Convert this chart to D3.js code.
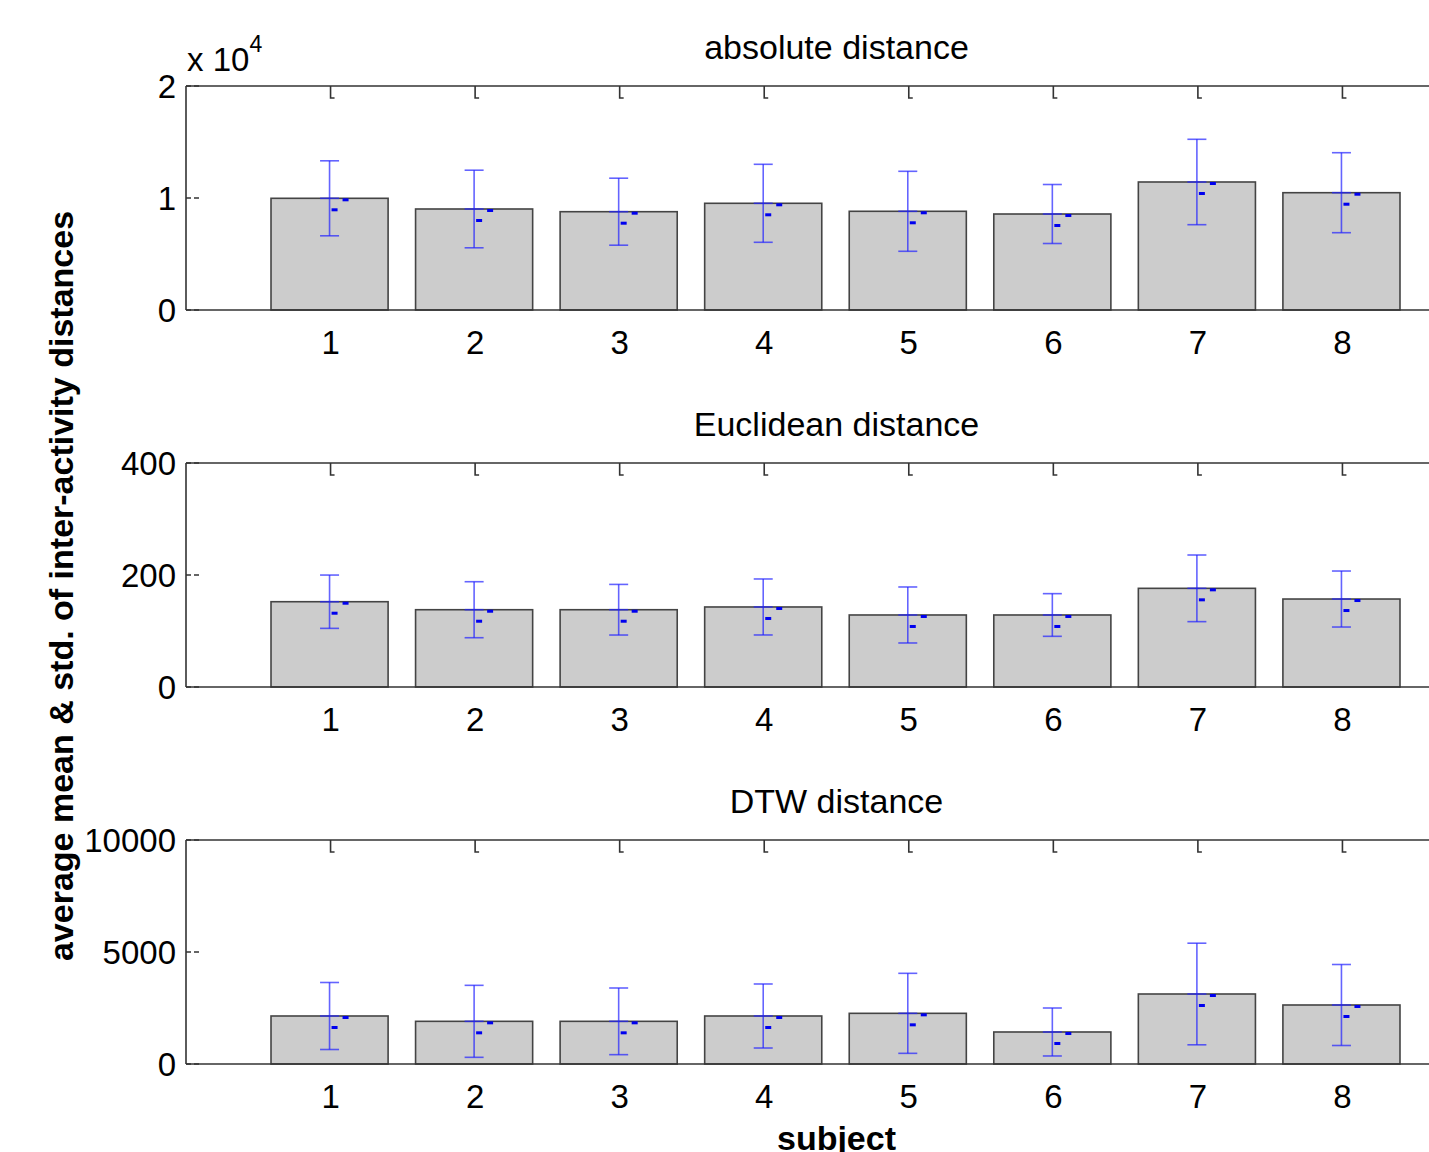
<!DOCTYPE html>
<html>
<head>
<meta charset="utf-8">
<script src="https://cdn.jsdelivr.net/npm/d3@7"></script>
<style>
  body { margin: 0; background: #fff; }
  svg { display: block; font-family: "Liberation Sans", Arial, sans-serif; }
</style>
</head>
<body>
<div id="chart"></div>
<script>
var subjects = [1, 2, 3, 4, 5, 6, 7, 8];

// absolute distance
var absMean = [9973, 9018, 8777, 9527, 8813, 8571, 11429, 10473];
var absStd = [3348, 3464, 2991, 3482, 3571, 2634, 3813, 3571];

// Euclidean distance
var eucMean = [152.3, 138, 138, 142.9, 128.6, 128.6, 176.2, 157.1];
var eucStd = [47.6, 50, 45.2, 50, 50, 38.1, 59.5, 50];

// DTW distance
var dtwMean = [2143, 1905, 1905, 2143, 2262, 1429, 3125, 2634];
var dtwStd = [1496, 1607, 1488, 1429, 1786, 1071, 2268, 1808];

var panels = [
  { title: "absolute distance", mean: absMean, std: absStd, max: 20000, ticks: [0, 10000, 20000], fmt: function (d) { return d / 10000; } },
  { title: "Euclidean distance", mean: eucMean, std: eucStd, max: 400, ticks: [0, 200, 400], fmt: function (d) { return d; } },
  { title: "DTW distance", mean: dtwMean, std: dtwStd, max: 10000, ticks: [0, 5000, 10000], fmt: function (d) { return d; } }
];

var W = 1429, H = 1152;
var svg = d3.select("#chart").append("svg")
  .attr("width", W)
  .attr("height", H);

var x = d3.scaleLinear().domain([0, 9]).range([186, 1487]);
var panelTops = [86, 463, 840];
var ph = 224;
var barW = (x(1) - x(0)) * 0.81;
var capW = 19;

panels.forEach(function (p, k) {
  var top = panelTops[k];
  var y = d3.scaleLinear().domain([0, p.max]).range([top + ph, top]);
  var g = svg.append("g");

  // bars
  g.selectAll("rect.bar")
    .data(p.mean)
    .enter().append("rect")
    .attr("class", "bar")
    .attr("x", function (d, i) { return x(subjects[i]) - barW / 2 - 1; })
    .attr("y", function (d) { return y(d); })
    .attr("width", barW)
    .attr("height", function (d) { return y(0) - y(d); })
    .attr("fill", "#cccccc")
    .attr("stroke", "#444")
    .attr("stroke-width", 1.6);

  // error bars
  var eb = g.selectAll("g.eb")
    .data(p.mean)
    .enter().append("g")
    .attr("class", "eb")
    .attr("stroke", "#2222ff")
    .attr("stroke-opacity", 0.7)
    .attr("stroke-width", 1.6);

  eb.append("line")
    .attr("x1", function (d, i) { return x(subjects[i]) - 1; })
    .attr("x2", function (d, i) { return x(subjects[i]) - 1; })
    .attr("y1", function (d, i) { return y(d + p.std[i]); })
    .attr("y2", function (d, i) { return y(d - p.std[i]); });

  [1, 0, -1].forEach(function (s) {
    eb.append("line")
      .attr("x1", function (d, i) { return x(subjects[i]) - 1 - capW / 2; })
      .attr("x2", function (d, i) { return x(subjects[i]) - 1 + capW / 2; })
      .attr("y1", function (d, i) { return y(d + s * p.std[i]); })
      .attr("y2", function (d, i) { return y(d + s * p.std[i]); });
  });

  // small mean markers
  g.selectAll("rect.m1")
    .data(p.mean)
    .enter().append("rect")
    .attr("x", function (d, i) { return x(subjects[i]) + 12; })
    .attr("y", function (d) { return y(d); })
    .attr("width", 6).attr("height", 3)
    .attr("fill", "#0000ee");
  g.selectAll("rect.m2")
    .data(p.mean)
    .enter().append("rect")
    .attr("x", function (d, i) { return x(subjects[i]) + 1; })
    .attr("y", function (d) { return y(d) + 10; })
    .attr("width", 6).attr("height", 3)
    .attr("fill", "#0000ee");

  // axes box (left, top, bottom)
  var ax = g.append("g").attr("stroke", "#333").attr("stroke-width", 1.6).attr("fill", "none");
  ax.append("line").attr("x1", x(0)).attr("x2", x(9)).attr("y1", y(p.max)).attr("y2", y(p.max));
  ax.append("line").attr("x1", x(0)).attr("x2", x(9)).attr("y1", y(0)).attr("y2", y(0));
  ax.append("line").attr("x1", x(0)).attr("x2", x(0)).attr("y1", y(p.max)).attr("y2", y(0));

  // top tick marks
  ax.selectAll("path.tt")
    .data(subjects)
    .enter().append("path")
    .attr("d", function (d) { var xx = x(d); return "M" + xx + "," + top + "V" + (top + 12) + "H" + (xx + 4); });

  // y ticks (inward)
  ax.selectAll("line.yt")
    .data(p.ticks)
    .enter().append("line")
    .attr("x1", x(0)).attr("x2", x(0) + 14)
    .attr("y1", function (d) { return y(d); })
    .attr("y2", function (d) { return y(d); })
    .attr("stroke-dasharray", "5,3");

  // y tick labels
  g.selectAll("text.yl")
    .data(p.ticks)
    .enter().append("text")
    .attr("x", x(0) - 10)
    .attr("y", function (d) { return y(d); })
    .attr("dy", "0.36em")
    .attr("text-anchor", "end")
    .attr("font-size", 33)
    .text(p.fmt);

  // x tick labels
  g.selectAll("text.xl")
    .data(subjects)
    .enter().append("text")
    .attr("x", function (d) { return x(d); })
    .attr("y", y(0) + 44)
    .attr("text-anchor", "middle")
    .attr("font-size", 33)
    .text(function (d) { return d; });

  // title
  g.append("text")
    .attr("x", x(4.5))
    .attr("y", top - 27)
    .attr("text-anchor", "middle")
    .attr("font-size", 34)
    .text(p.title);
});

// exponent label
var ex = svg.append("text")
  .attr("x", 187)
  .attr("y", 71)
  .attr("font-size", 33)
  .text("x 10");
ex.append("tspan")
  .attr("dy", -19)
  .attr("font-size", 23)
  .text("4");

// y label
svg.append("text")
  .attr("transform", "translate(73,586) rotate(-90)")
  .attr("text-anchor", "middle")
  .attr("font-size", 34)
  .attr("font-weight", "bold")
  .text("average mean & std. of inter-activity distances");

// x label
svg.append("text")
  .attr("x", x(4.5))
  .attr("y", 1150)
  .attr("text-anchor", "middle")
  .attr("font-size", 34)
  .attr("font-weight", "bold")
  .text("subject");
</script>
</body>
</html>
